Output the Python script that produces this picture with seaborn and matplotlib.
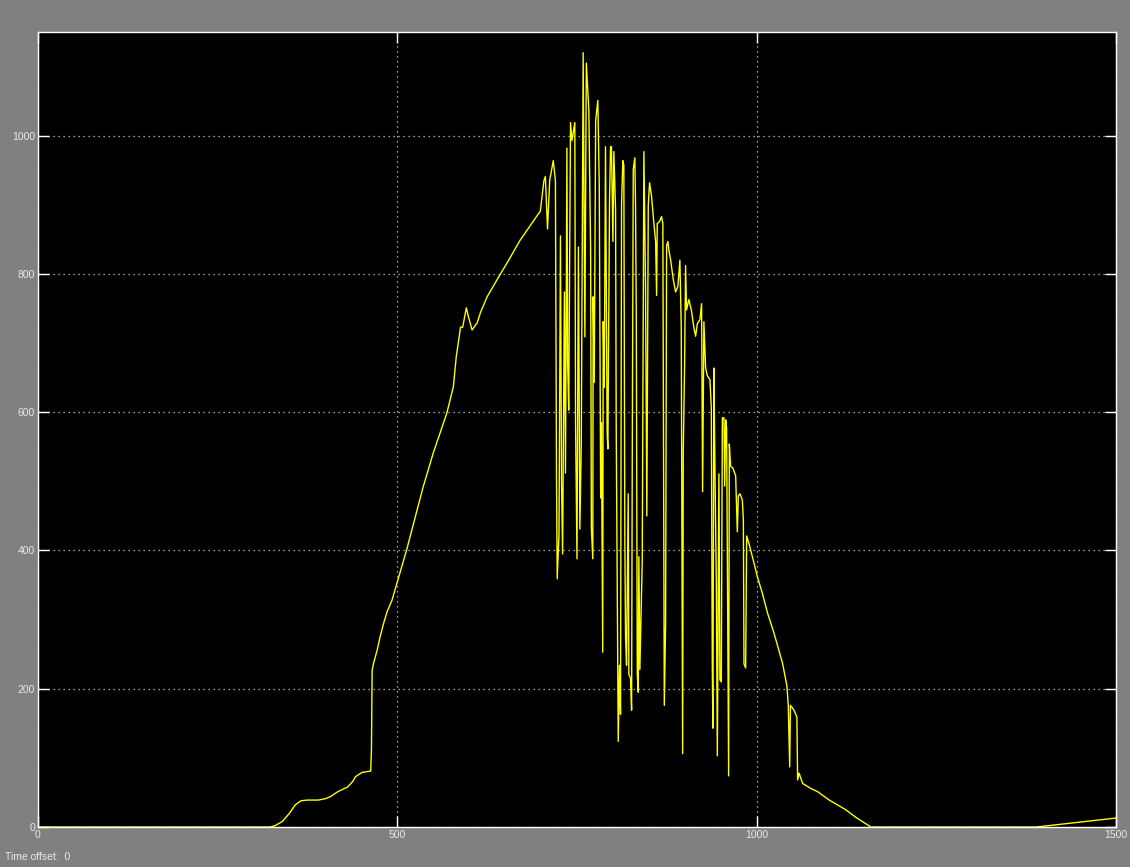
import numpy as np
import pandas as pd
import seaborn as sns
import matplotlib.pyplot as plt

# signal (time, value)
t_rise = [0, 323, 330, 340, 350, 358, 366, 375, 390, 400, 407, 417, 431, 438, 442, 451, 463, 464, 465,
          467, 472, 476, 481, 486, 492.6, 513, 536, 550, 569, 578, 582, 588, 591, 596, 599, 604, 611,
          616, 625, 639, 655, 671, 685, 695, 699]
v_rise = [0, 0, 2, 8, 20, 32, 38, 39, 39, 41, 44, 51, 58, 66, 73, 79, 81, 111, 227,
          237, 256, 275, 295, 312, 328, 401, 492, 541, 599, 637, 680, 723, 723, 751, 738, 719, 729,
          745, 767, 792, 820, 849, 870, 885, 891]

t_noise1 = [704, 706, 709, 712, 717, 720, 721.5, 722.5, 725, 727, 728.5, 730, 732.5, 734, 736, 737,
            738.5, 741, 743, 747, 748, 750, 752, 754, 756, 758.6, 761, 763, 766.5, 769, 770, 772,
            772.5, 774, 776, 779, 781, 783, 784, 785.5, 785.8, 786.5, 788]
v_noise1 = [935, 941, 865, 935, 964, 935, 512, 359, 424, 855, 498, 395, 774, 512, 982, 673,
            603, 1019, 993, 1019, 585, 388, 839, 431, 556, 1120, 709, 1105, 1037, 833, 432, 388,
            767, 643, 1022, 1051, 928, 476, 585, 330, 253, 731, 636]

t_noise2 = [789.7, 792, 793, 795.3, 796.7, 798, 800, 801.3, 803.7, 804.6, 806, 807.4, 809.2, 810.6,
            812, 813.8, 815.2, 816.6, 817.6, 819, 821.3, 822.2, 824.5, 826, 826.9, 828.3, 830.5,
            831.5, 832.5, 833.9, 835.3, 836.1, 837.5, 840.8, 843.1, 845.4, 847.2, 849.2, 851, 853.8,
            857, 859.4, 860.8, 861.7, 865, 867.7, 869.5, 871.5, 873.3, 874.7, 876.5, 877.9, 880.2]
v_noise2 = [984, 567, 547, 906, 984, 984, 847, 977, 893, 580, 345, 124, 234, 163,
            899, 964, 957, 417, 273, 234, 482, 221, 215, 169, 528, 951, 968,
            899, 743, 221, 195, 391, 228, 385, 977, 782, 450, 899, 932, 912,
            873, 847, 769, 873, 876, 883, 873, 176, 293, 841, 847, 834, 821]

t_noise3 = [884, 887.2, 890.4, 893.2, 895.1, 896.5, 897, 897.9, 899.7, 901.1, 902.5, 905.7, 909.1,
            912.7, 915.1, 917.4, 921.1, 923.4, 924.8, 926.6, 929, 931.3, 935, 936.9, 938.3, 939.1,
            940.5, 941.9, 943.9, 945.3, 947.5, 948.9, 950.8, 952.3, 954.5, 955.5, 956.9, 958.2, 960,
            961, 962, 963.8, 967, 970.8, 973.1, 974.5, 976.8, 980.1, 981.5, 982.4, 984.7, 986.1, 989.3]
v_noise3 = [792, 774, 782, 820, 722, 282, 106, 543, 664, 812, 748, 763, 748,
            722, 710, 728, 734, 757, 485, 731, 664, 653, 647, 606, 230, 143,
            664, 525, 352, 103, 511, 213, 210, 592, 592, 493, 589, 577, 265,
            74, 554, 522, 519, 508, 427, 479, 482, 473, 444, 236, 230, 421, 410]

t_fall = [996.3, 1001, 1008, 1015, 1024, 1036, 1042, 1044, 1046, 1047, 1052, 1056, 1057, 1059, 1064,
          1075, 1085, 1101, 1124, 1138, 1156, 1159, 1389, 1500]
v_fall = [382, 362, 338, 310, 281, 237, 205, 176, 87, 176, 169, 159, 68, 78, 63,
          56, 51, 39, 25, 14, 2, 0, 0, 13]

x_ticks = [0, 500, 1000, 1500]
y_ticks = [0, 200, 400, 600, 800, 1000]

df = pd.DataFrame({
    "t": t_rise + t_noise1 + t_noise2 + t_noise3 + t_fall,
    "v": v_rise + v_noise1 + v_noise2 + v_noise3 + v_fall,
})

sns.set_theme(style="dark")
plt.rcParams["font.family"] = ["Liberation Sans", "DejaVu Sans"]

fig = plt.figure(figsize=(11.3, 8.67), dpi=100, facecolor="#808080")
ax = fig.add_axes([0.0336, 0.0461, 0.954, 0.917])
ax.set_facecolor("black")

sns.lineplot(data=df, x="t", y="v", ax=ax, color="#ffff00", linewidth=1.0,
             estimator=None, sort=False)

ax.set_xlim(0, 1500)
ax.set_ylim(0, 1150)
ax.set_xticks(x_ticks)
ax.set_yticks(y_ticks)
ax.set_xlabel("")
ax.set_ylabel("")

ax.grid(True, color="#d0d0d0", linestyle=(0, (1, 3)), linewidth=0.9)
for s in ax.spines.values():
    s.set_color("white")
    s.set_linewidth(1.0)
    s.set_visible(True)

ax.tick_params(axis="both", which="both", direction="in", length=8, width=1,
               colors="white", labelcolor="#e8e8e8", labelsize=7.5,
               top=True, right=True, bottom=True, left=True, pad=2)

fig.text(0.004, 0.006, "Time offset:  0", color="#e8e8e8", fontsize=7.5, ha="left", va="bottom")

fig.savefig("out.png", dpi=100, facecolor=fig.get_facecolor())
